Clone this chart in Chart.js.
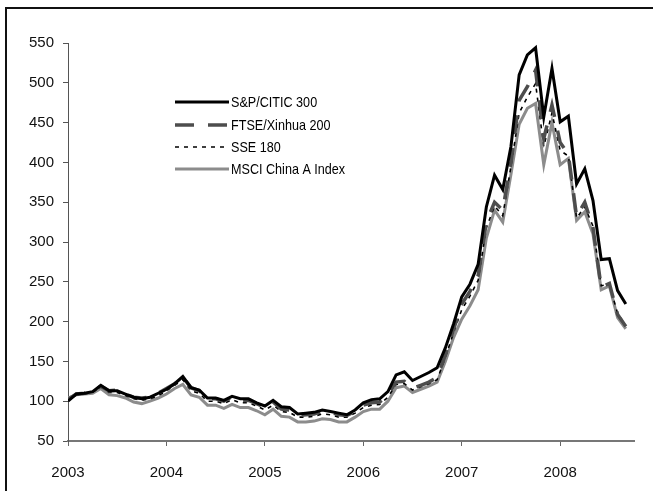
<!DOCTYPE html>
<html>
<head>
<meta charset="utf-8">
<script src="https://cdn.jsdelivr.net/npm/chart.js@4.4.1/dist/chart.umd.min.js"></script>
<style>
  html, body { margin: 0; padding: 0; background: #fff; overflow: hidden; }
  #wrap { position: relative; width: 653px; height: 491px; }
  #frame { position: absolute; left: 5px; top: 7px; width: 700px; height: 600px;
           border-left: 2px solid #111; border-top: 2px solid #111; }
  canvas { position: absolute; left: 0; top: 0; }
</style>
</head>
<body>
<div id="wrap">
  <div id="frame"></div>
  <canvas id="myChart" width="653" height="491"></canvas>
</div>
<script>
const startYear = 2003;
const yTicks = [50, 100, 150, 200, 250, 300, 350, 400, 450, 500, 550];

// monthly values, Jan 2003 .. Sep 2008
const spCitic300 = [100, 109, 110, 112, 120, 113, 113, 109, 105, 103, 105, 110,
  115, 122, 131, 117, 114, 104, 104, 101, 106, 103, 103, 98,
  94, 101, 93, 92, 84, 85, 86, 89, 87, 85, 83, 89,
  98, 102, 103, 112, 133, 137, 126, 131, 136, 142, 167, 197,
  231, 247, 272, 344, 384, 366, 420, 510, 535, 544, 457, 518,
  451, 458, 373, 392, 352, 278, 279, 239, 222];

const ftseXinhua200 = [102, 109, 110, 112, 119, 113, 114, 109, 105, 104, 105, 110,
  116, 122, 130, 117, 113, 103, 103, 100, 105, 101, 101, 97,
  92, 99, 90, 89, 82, 83, 84, 87, 86, 83, 82, 87,
  95, 98, 99, 108, 124, 125, 116, 120, 124, 130, 158, 190,
  222, 238, 258, 325, 350, 340, 400, 478, 495, 516, 430, 472,
  425, 410, 332, 350, 318, 243, 248, 209, 194];

const sse180 = [101, 108, 109, 111, 118, 111, 111, 107, 103, 101, 103, 107,
  113, 120, 127, 113, 110, 100, 100, 97, 102, 98, 98, 94,
  89, 95, 87, 86, 80, 80, 81, 84, 83, 80, 80, 85,
  92, 95, 96, 105, 121, 122, 114, 118, 122, 127, 155, 186,
  215, 232, 252, 318, 345, 333, 395, 462, 482, 499, 420, 462,
  415, 408, 330, 344, 320, 245, 247, 210, 196];

const msciChinaA = [104, 108, 109, 110, 116, 108, 107, 104, 99, 97, 100, 104,
  109, 116, 121, 108, 105, 95, 95, 91, 96, 92, 92, 88,
  83, 90, 81, 80, 74, 74, 75, 78, 77, 74, 74, 80,
  87, 90, 90, 100, 117, 119, 111, 115, 119, 124, 150, 180,
  203, 220, 240, 305, 340, 325, 385, 448, 468, 474, 397, 450,
  397, 405, 327, 338, 310, 240, 245, 205, 191];

const seriesNames = ['S&P/CITIC 300', 'FTSE/Xinhua 200', 'SSE 180', 'MSCI China A Index'];

const axisFont = { family: "'Liberation Sans', Arial, sans-serif", size: 15 };

function toPoints(arr) {
  return arr.map((v, i) => ({ x: i, y: v }));
}

// legend drawn inside the plot, top-left, like the original (narrow text)
const insideLegend = {
  id: 'insideLegend',
  afterDraw(chart) {
    const ctx = chart.ctx;
    const x0 = 175, x1 = 229, tx = 231;
    const rows = [102, 125, 147, 169];
    const squeeze = 0.84;
    ctx.save();
    ctx.font = "15px 'Liberation Sans', Arial, sans-serif";
    ctx.textBaseline = 'middle';
    ctx.fillStyle = '#000';
    chart.data.datasets.forEach((ds, i) => {
      ctx.beginPath();
      ctx.strokeStyle = ds.borderColor;
      ctx.lineWidth = ds.borderWidth;
      ctx.setLineDash(ds.borderDash || []);
      ctx.moveTo(x0, rows[i]);
      ctx.lineTo(x1, rows[i]);
      ctx.stroke();
      ctx.save();
      ctx.translate(tx, rows[i] + 1);
      ctx.scale(squeeze, 1);
      ctx.fillText(ds.label, 0, 0);
      ctx.restore();
    });
    ctx.restore();
  }
};

const ctx = document.getElementById('myChart').getContext('2d');
const chart = new Chart(ctx, {
  type: 'line',
  data: {
    datasets: [
      { label: seriesNames[0], data: toPoints(spCitic300), borderColor: '#000000', borderWidth: 3 },
      { label: seriesNames[1], data: toPoints(ftseXinhua200), borderColor: '#4d4d4d', borderWidth: 3.5, borderDash: [19, 14] },
      { label: seriesNames[2], data: toPoints(sse180), borderColor: '#000000', borderWidth: 1.6, borderDash: [4, 5] },
      { label: seriesNames[3], data: toPoints(msciChinaA), borderColor: '#8c8c8c', borderWidth: 3 }
    ]
  },
  options: {
    responsive: false,
    animation: false,
    events: [],
    elements: { point: { radius: 0 }, line: { tension: 0, fill: false } },
    layout: { padding: { left: 0, right: 19, top: 43, bottom: 0 } },
    plugins: { legend: { display: false }, tooltip: { enabled: false } },
    scales: {
      x: {
        type: 'linear',
        min: 0,
        max: 69,
        grid: { display: true, drawOnChartArea: false, drawTicks: true, tickLength: 5, color: '#666', lineWidth: 1 },
        border: { display: true, color: '#777', width: 2 },
        ticks: {
          stepSize: 12,
          includeBounds: false,
          autoSkip: false,
          maxRotation: 0,
          padding: 18,
          color: '#111',
          font: axisFont,
          callback: v => (v % 12 === 0 ? String(startYear + v / 12) : '')
        },
        afterFit: s => { s.height = 50; }
      },
      y: {
        min: 50,
        max: 550,
        afterBuildTicks: s => { s.ticks = yTicks.map(v => ({ value: v })); },
        grid: { display: true, drawOnChartArea: false, drawTicks: true, tickLength: 5, color: '#555', lineWidth: 1 },
        border: { display: true, color: '#555', width: 1 },
        ticks: { padding: 9, color: '#111', font: axisFont },
        afterFit: s => { s.width = 68; }
      }
    }
  },
  plugins: [insideLegend]
});
</script>
</body>
</html>
